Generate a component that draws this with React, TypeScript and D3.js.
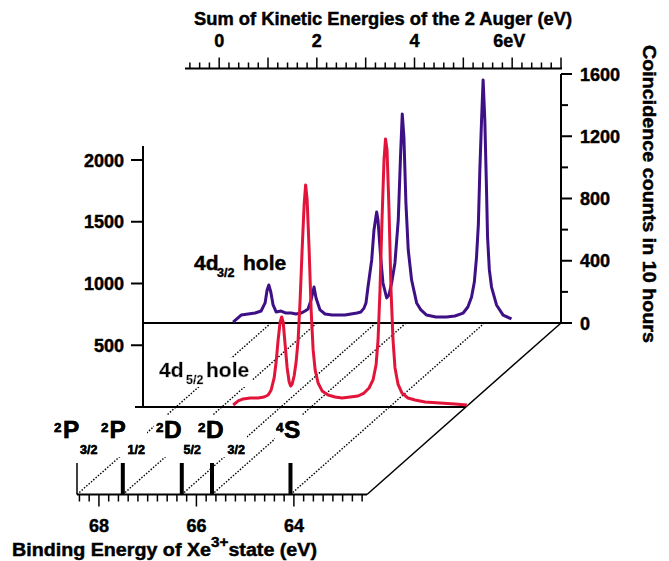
import * as d3 from "d3";

const width = 669;
const height = 561;

// binding energy of the Xe3+ final states (eV)
const stateBE = [68.45, 67.51, 66.3, 65.68, 64.07];
const stateSup = ["2", "2", "2", "2", "4"];
const stateMain = ["P", "P", "D", "D", "S"];
const stateSub = ["3/2", "1/2", "5/2", "3/2", ""];

// 4d3/2 hole spectrum (purple, right axis)
const purpleBE = [
  69.227, 69.063, 68.919, 68.776, 68.653, 68.571, 68.53, 68.495, 68.454, 68.407,
  68.345, 68.243, 68.141, 68.038, 67.936, 67.833, 67.751, 67.69, 67.628, 67.567,
  67.526, 67.444, 67.341, 67.198, 67.075, 66.932, 66.809, 66.686, 66.604, 66.542,
  66.501, 66.46, 66.384, 66.337, 66.282, 66.255, 66.2, 66.153, 66.077, 66.03,
  65.975, 65.907, 65.839, 65.79, 65.757, 65.723, 65.682, 65.634, 65.565, 65.462,
  65.374, 65.257, 65.067, 64.848, 64.677, 64.507, 64.411, 64.335, 64.278, 64.233,
  64.196, 64.165, 64.13, 64.098, 64.063, 64.028, 64.007, 63.97, 63.925, 63.823,
  63.688, 63.516,
];
const purpleCounts = [
  6, 51, 58, 64, 77, 129, 212, 244, 199, 116,
  71, 77, 64, 64, 58, 64, 77, 90, 148, 231,
  161, 84, 58, 51, 51, 51, 58, 64, 71, 96,
  129, 231, 405, 598, 713, 662, 424, 257, 161, 180,
  257, 386, 662, 1092, 1343, 1195, 771, 469, 276, 129,
  84, 51, 39, 39, 45, 64, 103, 167, 263, 424,
  630, 983, 1304, 1562, 1304, 855, 553, 341, 231, 116,
  51, 26,
];

// 4d5/2 hole spectrum (red, left axis)
const redBE = [
  67.276, 67.173, 67.071, 66.927, 66.764, 66.641, 66.559, 66.497, 66.436, 66.395,
  66.354, 66.313, 66.282, 66.251, 66.21, 66.169, 66.128, 66.098, 66.067, 66.026,
  65.985, 65.944, 65.903, 65.862, 65.821, 65.79, 65.759, 65.718, 65.677, 65.636,
  65.595, 65.534, 65.452, 65.329, 65.186, 65.042, 64.878, 64.714, 64.591, 64.489,
  64.407, 64.345, 64.304, 64.264, 64.223, 64.182, 64.151, 64.12, 64.079, 64.038,
  63.997, 63.956, 63.895, 63.813, 63.69, 63.546, 63.341, 63.034, 62.727, 62.481,
];
const redCounts = [
  16, 49, 65, 73, 73, 81, 97, 138, 235, 364,
  543, 688, 729, 688, 502, 316, 202, 170, 186, 251,
  364, 543, 866, 1271, 1636, 1798, 1676, 1271, 785, 462,
  300, 194, 130, 97, 81, 73, 81, 89, 113, 154,
  219, 340, 543, 947, 1514, 2000, 2170, 2081, 1595, 947,
  543, 316, 186, 113, 73, 57, 40, 32, 24, 16,
];

const leftTicks = [500, 1000, 1500, 2000];
const rightTicks = [0, 200, 400, 600, 800, 1000, 1200, 1400, 1600];
const topLabels = ["0", "2", "4", "6eV"];
const topLabelValues = [0, 2, 4, 6];
const bottomLabels = [68, 66, 64];

const font = "'Liberation Sans', Arial, Helvetica, sans-serif";
const purple = "#3d1086";
const red = "#e2143a";

// layout of the pseudo-3D planes
const yFront = 494.5;
const yRed = 407;
const yPurple = 323;
const slope = 194 / (yFront - yPurple); // horizontal shift per px of depth
const xFront = d3.scaleLinear([68.45, 62.5], [77, 367]);
const shift = (y: number) => (yFront - y) * slope;
const xRed = d3.scaleLinear([68.45, 62.5], [77 + shift(yRed), 367 + shift(yRed)]);
const xPurple = d3.scaleLinear([68.45, 62.5], [77 + shift(yPurple), 367 + shift(yPurple)]);
const xTop = d3.scaleLinear([-0.7, 7.0], [185, 561]);
const yLeft = d3.scaleLinear([0, 2000], [yRed, 160]);
const yRight = d3.scaleLinear([0, 1600], [yPurple, 74]);
const xLeftAxis = 143;
const xRightAxis = xPurple(62.5);

// label placement (sup, main, sub x positions)
const labelPos = [
  [54, 63, 80],
  [101, 109.5, 127.5],
  [156, 164, 183.5],
  [198, 206, 227.5],
  [276, 284, 0],
];

const StateLabel = ({ i, knock }: { i: number; knock?: boolean }) => (
  <text filter={knock ? "url(#knock)" : undefined}>
    <tspan x={labelPos[i][0]} y={432} fontSize={13.5}>{stateSup[i]}</tspan>
    <tspan x={labelPos[i][1]} y={437.5} fontSize={24.5}>{stateMain[i]}</tspan>
    {stateSub[i] && (
      <tspan x={labelPos[i][2]} y={454} fontSize={12.5}>{stateSub[i]}</tspan>
    )}
  </text>
);

const App = () => {
  const purpleLine = d3.line<number>((d) => xPurple(d), (d, i) => yRight(purpleCounts[i]));
  const redLine = d3.line<number>((d) => xRed(d), (d, i) => yLeft(redCounts[i]));
  const topTicks = d3.range(-0.6, 7.001, 0.2);
  const frontTicks = d3.range(62.6, 68.401, 0.2);
  const isMajor = (v: number, step: number) => Math.abs(v / step - Math.round(v / step)) < 1e-6;

  return (
    <svg
      width={width}
      height={height}
      style={{ position: "absolute", left: 0, top: 0, background: "#fff" }}
      fontFamily={font}
      fontWeight="bold"
    >
      <style>{`text { stroke: #000; stroke-width: 0.45px; }`}</style>
      <defs>
        <filter id="knock" x="-0.03" y="0" width="1.06" height="1">
          <feFlood floodColor="white" />
          <feComposite in="SourceGraphic" operator="over" />
        </filter>
      </defs>

      {/* dotted guides from the states to the 4d3/2 plane */}
      <g stroke="#000" strokeWidth={1.4} strokeDasharray="1.5,1.6" fill="none">
        {stateBE.map((e, i) => (
          <line key={i} x1={xFront(e)} y1={yFront} x2={xPurple(e)} y2={yPurple} />
        ))}
      </g>

      {/* state labels: white boxes first, then the text on top */}
      <g fill="#000">
        {stateBE.map((e, i) => <StateLabel key={i} i={i} knock />)}
        {stateBE.map((e, i) => <StateLabel key={"t" + i} i={i} />)}
      </g>

      {/* state markers */}
      {stateBE.map((e, i) => (
        <line key={i} x1={xFront(e)} x2={xFront(e)} y1={463} y2={yFront}
          stroke="#000" strokeWidth={i === 0 ? 1.5 : 4} />
      ))}

      {/* front (binding energy) axis */}
      <line x1={xFront(68.45)} x2={xFront(62.5)} y1={yFront} y2={yFront} stroke="#000" strokeWidth={2} />
      {frontTicks.map((t, i) => (
        <line key={i} x1={xFront(t)} x2={xFront(t)} y1={yFront}
          y2={yFront + (isMajor(t, 2) ? 12 : 7)} stroke="#000" strokeWidth={1.5} />
      ))}
      {bottomLabels.map((t) => (
        <text key={t} x={xFront(t)} y={532} fontSize={18} textAnchor="middle">{t}</text>
      ))}
      <text x={12} y={556} fontSize={18} textLength={305} lengthAdjust="spacingAndGlyphs">
        Binding Energy of Xe
        <tspan fontSize={14} dy={-9}>3+</tspan>
        <tspan dy={9}>state (eV)</tspan>
      </text>

      {/* oblique edge */}
      <line x1={xFront(62.5)} y1={yFront} x2={xRightAxis} y2={yPurple} stroke="#000" strokeWidth={1.5} />

      {/* 4d5/2 plane */}
      <line x1={xLeftAxis - 8} x2={xRed(62.5)} y1={yRed} y2={yRed} stroke="#000" strokeWidth={2} />
      <text filter="url(#knock)">
        <tspan x={159} y={377} fontSize={21}>4d</tspan>
        <tspan x={186} y={384} fontSize={12.5}>5/2</tspan>
        <tspan x={206} y={377} fontSize={21}>hole</tspan>
      </text>

      {/* left axis */}
      <line x1={xLeftAxis} x2={xLeftAxis} y1={146} y2={yRed} stroke="#000" strokeWidth={2} />
      {leftTicks.map((t) => (
        <g key={t}>
          <line x1={xLeftAxis - 12} x2={xLeftAxis} y1={yLeft(t)} y2={yLeft(t)} stroke="#000" strokeWidth={2} />
          <text x={124} y={yLeft(t) + 6.5} fontSize={18} textAnchor="end">{t}</text>
        </g>
      ))}

      {/* 4d3/2 plane */}
      <line x1={xLeftAxis} x2={xRightAxis} y1={yPurple} y2={yPurple} stroke="#000" strokeWidth={2} />
      <text>
        <tspan x={194} y={270} fontSize={21}>4d</tspan>
        <tspan x={217} y={277} fontSize={12.5}>3/2</tspan>
        <tspan x={243} y={270} fontSize={21}>hole</tspan>
      </text>

      {/* right axis */}
      <line x1={xRightAxis} x2={xRightAxis} y1={yRight(1600)} y2={yPurple} stroke="#000" strokeWidth={2} />
      {rightTicks.map((t) => (
        <line key={t} x1={xRightAxis} x2={xRightAxis + (t % 400 === 0 ? 11 : 7)}
          y1={yRight(t)} y2={yRight(t)} stroke="#000" strokeWidth={2} />
      ))}
      {rightTicks.filter((t) => t % 400 === 0).map((t) => (
        <text key={t} x={580} y={yRight(t) + 6.5} fontSize={18}>{t}</text>
      ))}
      <text transform={`translate(643,194) rotate(90)`} fontSize={18} textAnchor="middle"
        textLength={298} lengthAdjust="spacingAndGlyphs">
        Coincidence counts in 10 hours
      </text>

      {/* top axis */}
      <line x1={xTop(-0.7)} x2={xTop(7.0) + 1} y1={68.5} y2={68.5} stroke="#000" strokeWidth={2} />
      {topTicks.map((t, i) => (
        <line key={i} x1={xTop(t)} x2={xTop(t)} y1={68.5}
          y2={68.5 - (isMajor(t, 1) ? 11 : 6)} stroke="#000" strokeWidth={1.5} />
      ))}
      {topLabelValues.map((t, i) => (
        <text key={t} x={xTop(t) - (i === 3 ? 3 : 0)} y={47} fontSize={18} textAnchor="middle">
          {topLabels[i]}
        </text>
      ))}
      <text x={194} y={25} fontSize={18} textLength={378} lengthAdjust="spacingAndGlyphs">
        Sum of Kinetic Energies of the 2 Auger (eV)
      </text>

      {/* spectra */}
      <path d={purpleLine(purpleBE) as string} fill="none" stroke={purple} strokeWidth={3} strokeLinejoin="round" />
      <path d={redLine(redBE) as string} fill="none" stroke={red} strokeWidth={3} strokeLinejoin="round" />
    </svg>
  );
};

export default App;
